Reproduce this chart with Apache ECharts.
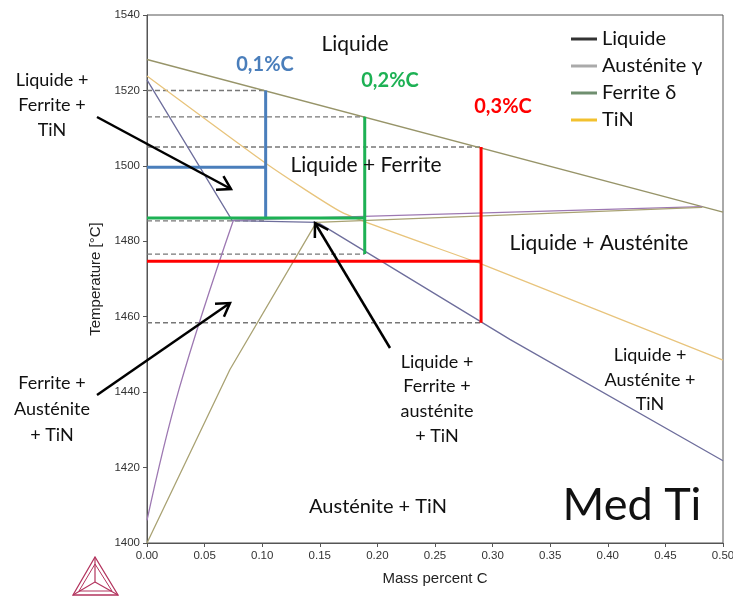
<!DOCTYPE html>
<html lang="fr">
<head>
  <meta charset="utf-8">
</head>
<body style="margin: 0">
  <div id="container" style="width: 733px; height: 597px"></div>

  <script type="text/javascript" src="https://cdn.jsdelivr.net/npm/echarts@6/dist/echarts.min.js"></script>
  <script type="text/javascript">
// phase boundaries: [mass % C, temperature °C]
var liquidus = [[0, 1528.2], [0.5, 1487.7]];
var tinLine = [[0, 1523.8], [0.103, 1500.7], [0.171, 1487.4], [0.29, 1474], [0.5, 1448.5]];
var liqFerLine = [[0, 1522.8], [0.074, 1485.5], [0.148, 1485], [0.315, 1454], [0.5, 1421.8]];
var ausRise = [[0, 1406], [0.028, 1441], [0.075, 1485.6]];
var ausFlat = [[0.075, 1485.6], [0.482, 1489.2]];
var ausTinLine = [[0, 1400], [0.072, 1446], [0.147, 1485], [0.482, 1489]];

// the three compositions: x, top and bottom of the vertical, level of the horizontal
var compNames = ['0,1%C', '0,2%C', '0,3%C'];
var compX = [0.103, 0.189, 0.29];
var compTop = [1520, 1513, 1505];
var compBottom = [1486.2, 1476.6, 1458.4];
var compLevel = [1499.6, 1486.2, 1474.7];
var compColors = ['#4a7ebb', '#1db154', '#ff0000'];

// dashed guide lines
var dashLevels = [1520, 1513, 1505, 1485.4, 1476.6, 1458.4];
var dashEnds = [0.103, 0.189, 0.29, 0.103, 0.189, 0.29];

var legendNames = ['Liquide', 'Austénite γ', 'Ferrite δ', 'TiN'];
var legendColors = ['#333333', '#aaaaaa', '#6f8f6f', '#f2c12e'];

var dom = document.getElementById('container');
var myChart = echarts.init(dom, null, { renderer: 'canvas' });

function phase(data, color, smooth) {
  return {
    type: 'line', data: data, symbol: 'none', silent: true, z: 3, smooth: smooth || false,
    lineStyle: { color: color, width: 1.3 }
  };
}

var series = [
  phase(liquidus, '#979469'),
  phase(tinLine, '#e8c47c', 0.15),
  phase(liqFerLine, '#6e6e9c'),
  phase(ausRise, '#9d78b2', 0.4),
  phase(ausFlat, '#9d78b2'),
  phase(ausTinLine, '#a9a273')
];

dashLevels.forEach(function (t, i) {
  series.push({
    type: 'line', data: [[0, t], [dashEnds[i], t]], symbol: 'none', silent: true, z: 2,
    lineStyle: { color: '#777', width: 1.4, type: [5, 3] }
  });
});

compX.forEach(function (x, i) {
  series.push({
    type: 'line', data: [[x, compTop[i]], [x, compBottom[i]]], symbol: 'none', silent: true, z: 4,
    lineStyle: { color: compColors[i], width: 3 }
  });
  series.push({
    type: 'line', data: [[0, compLevel[i]], [x, compLevel[i]]], symbol: 'none', silent: true, z: 4,
    lineStyle: { color: compColors[i], width: 3 }
  });
});

legendNames.forEach(function (n, i) {
  series.push({ name: n, type: 'line', data: [], itemStyle: { color: legendColors[i] } });
});

// annotation arrows (pixel positions)
var arrows = [
  [[97, 117], [231, 189]],
  [[97, 395], [230, 303]],
  [[390, 348], [315, 223]]
];

var graphics = [];
arrows.forEach(function (a) {
  var p0 = a[0], p1 = a[1];
  var ang = Math.atan2(p1[1] - p0[1], p1[0] - p0[0]);
  var L = 15, w = 0.55;
  graphics.push({
    type: 'line', shape: { x1: p0[0], y1: p0[1], x2: p1[0], y2: p1[1] },
    style: { stroke: '#000', lineWidth: 2.5 }, z: 100
  });
  graphics.push({
    type: 'polyline',
    shape: { points: [
      [p1[0] - L * Math.cos(ang - w), p1[1] - L * Math.sin(ang - w)],
      [p1[0], p1[1]],
      [p1[0] - L * Math.cos(ang + w), p1[1] - L * Math.sin(ang + w)]
    ] },
    style: { stroke: '#000', lineWidth: 2.5, fill: null }, z: 100
  });
});

function label(text, x, y, size, color, weight, lh) {
  graphics.push({
    type: 'text', z: 100,
    style: {
      text: text, x: x, y: y, align: 'center', verticalAlign: 'middle',
      fill: color || '#111', lineHeight: lh || size * 1.3,
      font: (weight || 'normal') + ' ' + size + 'px Lato'
    }
  });
}

label('Liquide', 355, 44, 21);
label('Liquide + Ferrite', 366, 165, 21);
label('Liquide + Austénite', 599, 243, 21);
label('Liquide +\nAusténite +\nTiN', 650, 380, 18, null, null, 24.5);
label('Liquide +\nFerrite +\nausténite\n+ TiN', 437, 399, 18, null, null, 24.7);
label('Austénite + TiN', 378, 507, 20);
label('Med Ti', 632, 505, 45);
label('Liquide +\nFerrite +\nTiN', 52, 105, 18, null, null, 25);
label('Ferrite +\nAusténite\n+ TiN', 52, 409, 18, null, null, 26);
label(compNames[0], 265, 65, 20, compColors[0], 'bold');
label(compNames[1], 390, 81, 20, compColors[1], 'bold');
label(compNames[2], 503, 107, 20, compColors[2], 'bold');

// small triangle logo
var logo = '#b3345e';
graphics.push({ type: 'polygon', shape: { points: [[95, 557], [73, 595], [118, 595]] }, style: { stroke: logo, fill: null, lineWidth: 1.3 } });
graphics.push({ type: 'polygon', shape: { points: [[95, 564], [79, 591], [112, 591]] }, style: { stroke: logo, fill: null, lineWidth: 1 } });
graphics.push({ type: 'polyline', shape: { points: [[95, 557], [95, 582], [73, 595]] }, style: { stroke: logo, fill: null, lineWidth: 1.2 } });
graphics.push({ type: 'line', shape: { x1: 95, y1: 582, x2: 118, y2: 595 }, style: { stroke: logo, lineWidth: 1.2 } });

var option = {
  animation: false,
  grid: {
    left: 147, right: 10, top: 15, bottom: 54, outerBoundsMode: 'none',
    show: true, borderColor: '#555', borderWidth: 1
  },
  legend: {
    orient: 'vertical', left: 566, top: 24,
    data: legendNames, icon: 'rect', itemWidth: 26, itemHeight: 3, itemGap: 7,
    textStyle: { fontFamily: 'Lato', fontSize: 20, color: '#111', lineHeight: 20, padding: [0, 0, 0, 0] }
  },
  xAxis: {
    type: 'value', min: 0, max: 0.5, interval: 0.05,
    name: 'Mass percent C', nameLocation: 'middle', nameGap: 28,
    nameTextStyle: { fontFamily: 'Liberation Sans', fontSize: 15, color: '#222' },
    axisLine: { lineStyle: { color: '#555' } },
    axisTick: { length: 4, lineStyle: { color: '#555' } },
    axisLabel: { fontFamily: 'Liberation Sans', fontSize: 11.5, color: '#333', margin: 7,
      formatter: function (v) { return v.toFixed(2); } },
    splitLine: { show: false }
  },
  yAxis: {
    type: 'value', min: 1400, max: 1540, interval: 20,
    name: 'Temperature [°C]', nameLocation: 'middle', nameGap: 30,
    nameTextStyle: { fontFamily: 'Liberation Sans', fontSize: 15, color: '#222' },
    axisLine: { show: true, lineStyle: { color: '#555' } },
    axisTick: { show: true, length: 4, lineStyle: { color: '#555' } },
    axisLabel: { fontFamily: 'Liberation Sans', fontSize: 11.5, color: '#333', margin: 7,
      formatter: function (v) { return String(v); } },
    splitLine: { show: false }
  },
  series: series,
  graphic: graphics
};

myChart.setOption(option);
window.addEventListener('resize', myChart.resize);
  </script>
</body>
</html>
